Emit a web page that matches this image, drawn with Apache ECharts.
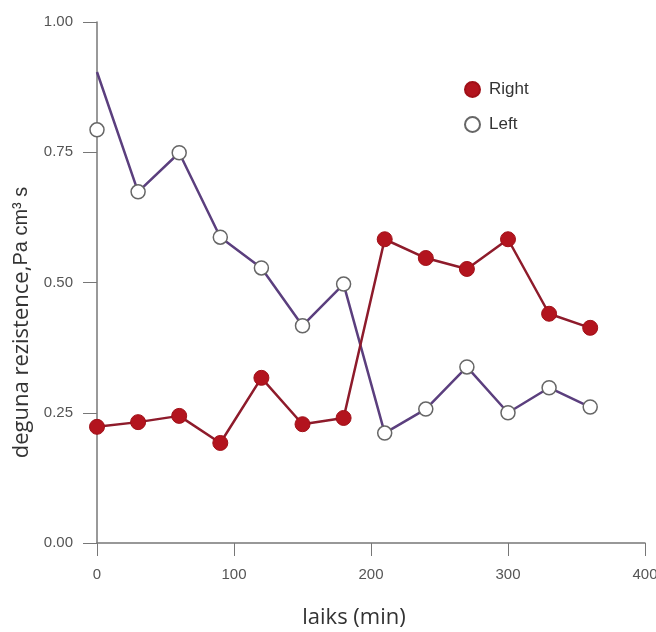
<!DOCTYPE html>
<html>
<head>
<meta charset="utf-8">
<script src="https://cdn.jsdelivr.net/npm/echarts@6/dist/echarts.min.js"></script>
<style>
  html, body { margin: 0; padding: 0; background: #fff; }
  #chart { width: 656px; height: 632px; }
</style>
</head>
<body>
<div id="chart"></div>
<script>
const times = [0, 30, 60, 90, 120, 150, 180, 210, 240, 270, 300, 330, 360];
const rightValues = [0.223, 0.232, 0.244, 0.192, 0.317, 0.228, 0.240, 0.583, 0.547, 0.526, 0.583, 0.440, 0.413];
// the left trace starts higher than its first marker in the original
const leftLine = [0.904, 0.674, 0.749, 0.587, 0.528, 0.417, 0.497, 0.211, 0.257, 0.338, 0.250, 0.298, 0.261];
const leftPoints = [0.793, 0.674, 0.749, 0.587, 0.528, 0.417, 0.497, 0.211, 0.257, 0.338, 0.250, 0.298, 0.261];
const yTicks = [0, 0.25, 0.5, 0.75, 1];
const xTicks = [0, 100, 200, 300, 400];

const pairs = vals => times.map((t, i) => [t, vals[i]]);

const chart = echarts.init(document.getElementById('chart'));

const option = {
    animation: false,
    textStyle: { fontFamily: 'Liberation Sans, Arial, sans-serif' },
    grid: { left: 97, right: 11, top: 22, bottom: 89, outerBoundsMode: 'none', containLabel: false },
    legend: {
        orient: 'vertical',
        left: 459,
        top: 76,
        itemWidth: 15,
        itemHeight: 15,
        itemGap: 18,
        textStyle: { fontSize: 17, color: '#333', padding: [0, 0, 0, 4] },
        data: [
            { name: 'Right', icon: 'circle' },
            { name: 'Left', icon: 'circle' }
        ]
    },
    xAxis: {
        type: 'value',
        min: xTicks[0],
        max: xTicks[xTicks.length - 1],
        interval: 100,
        name: 'laiks (min)',
        nameLocation: 'middle',
        nameGap: 64,
        nameTextStyle: {
            fontSize: 22,
            color: '#333',
            fontFamily: 'Open Sans, sans-serif',
            padding: [0, 34, 0, 0]
        },
        axisLine: { lineStyle: { color: '#777', width: 1.5 } },
        axisTick: { length: 13, lineStyle: { color: '#777' } },
        axisLabel: { fontSize: 15, color: '#555', margin: 24 },
        splitLine: { show: false }
    },
    yAxis: {
        type: 'value',
        min: yTicks[0],
        max: yTicks[yTicks.length - 1],
        interval: 0.25,
        name: '{a|deguna rezistence,}{b|Pa cm³ s}',
        nameLocation: 'middle',
        nameGap: 63,
        nameTextStyle: {
            color: '#333',
            padding: [0, 80, 0, 0],
            rich: {
                a: { fontSize: 22, color: '#333', fontFamily: 'Open Sans, sans-serif' },
                b: { fontSize: 20, color: '#333', fontFamily: 'Liberation Sans, Arial, sans-serif' }
            }
        },
        axisLine: { show: true, lineStyle: { color: '#777', width: 1.5 } },
        axisTick: { show: true, length: 14, lineStyle: { color: '#777' } },
        axisLabel: {
            fontSize: 15,
            color: '#555',
            margin: 24,
            formatter: v => v.toFixed(2)
        },
        splitLine: { show: false }
    },
    series: [
        {
            name: 'Left line',
            type: 'line',
            data: pairs(leftLine),
            symbol: 'none',
            lineStyle: { color: '#5b3f7e', width: 2.5 },
            z: 2
        },
        {
            name: 'Right',
            type: 'line',
            data: pairs(rightValues),
            symbol: 'circle',
            symbolSize: 15,
            lineStyle: { color: '#8e1b2b', width: 2.5 },
            itemStyle: { color: '#b3141e', borderColor: '#a01018', borderWidth: 1 },
            z: 3
        },
        {
            name: 'Left',
            type: 'scatter',
            data: pairs(leftPoints),
            symbol: 'circle',
            symbolSize: 14,
            itemStyle: { color: '#fff', borderColor: '#666', borderWidth: 1.5, opacity: 1 },
            z: 4
        }
    ]
};

chart.setOption(option);
</script>
</body>
</html>
